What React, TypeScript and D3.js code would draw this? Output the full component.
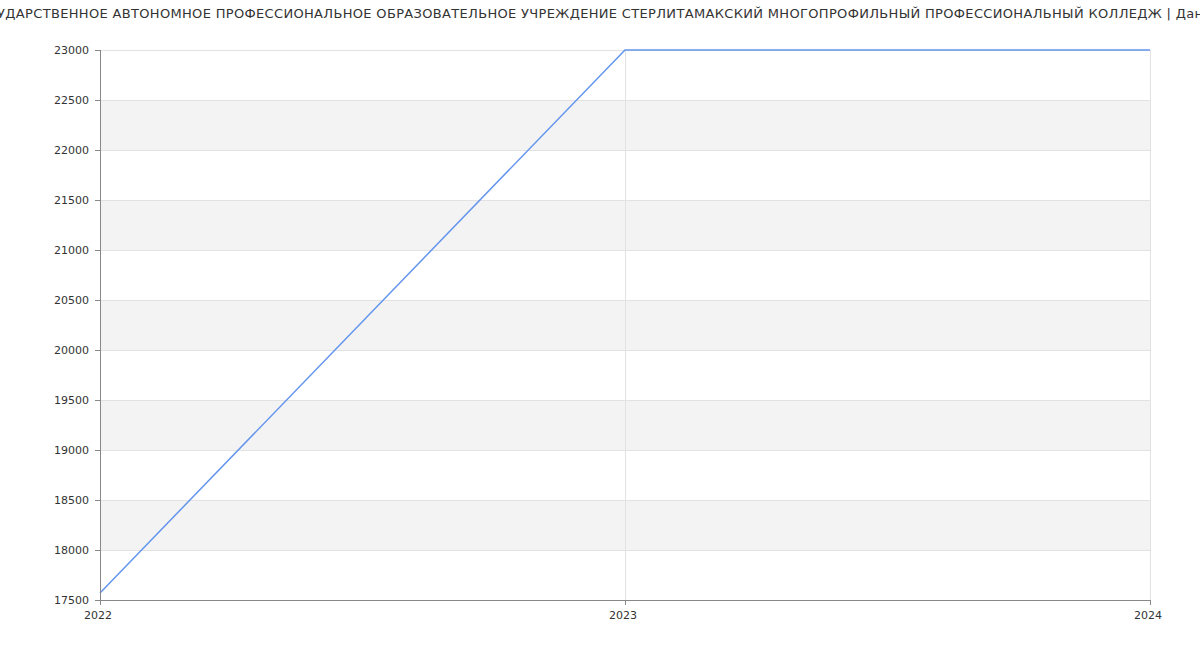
import React from "react";
import * as d3 from "d3";

const title = "ГОСУДАРСТВЕННОЕ АВТОНОМНОЕ ПРОФЕССИОНАЛЬНОЕ ОБРАЗОВАТЕЛЬНОЕ УЧРЕЖДЕНИЕ СТЕРЛИТАМАКСКИЙ МНОГОПРОФИЛЬНЫЙ ПРОФЕССИОНАЛЬНЫЙ КОЛЛЕДЖ | Данные";
const years = [2022, 2023, 2024];
const values = [17570, 23000, 23000];
const yTicks = [17500, 18000, 18500, 19000, 19500, 20000, 20500, 21000, 21500, 22000, 22500, 23000];

export default function App() {
  const W = 1200, H = 650;
  const m = { left: 100, right: 50, top: 50, bottom: 50 };
  const x = d3.scaleLinear().domain([2022, 2024]).range([m.left, W - m.right]);
  const y = d3.scaleLinear().domain([17500, 23000]).range([H - m.bottom, m.top]);
  const line = d3.line<number>().x((_, i) => x(years[i])).y((d) => y(d));
  const font = "DejaVu Sans, sans-serif";
  const bands = yTicks.slice(0, -1).map((t, i) => ({ lo: t, hi: yTicks[i + 1], i }));
  return (
    <svg width={W} height={H} style={{ position: "absolute", left: 0, top: 0 }}>
      <rect x={0} y={0} width={W} height={H} fill="#fff" />
      {bands.filter((b) => b.i % 2 === 1).map((b) => (
        <rect key={b.lo} x={x(2022)} y={y(b.hi)} width={x(2024) - x(2022)} height={y(b.lo) - y(b.hi)} fill="#f3f3f3" />
      ))}
      {yTicks.map((t) => (
        <line key={t} x1={x(2022)} x2={x(2024)} y1={y(t) + 0.5} y2={y(t) + 0.5} stroke="#e2e2e2" />
      ))}
      {years.slice(1).map((yr) => (
        <line key={yr} x1={x(yr) + 0.5} x2={x(yr) + 0.5} y1={y(23000)} y2={y(17500)} stroke="#e2e2e2" />
      ))}
      <path d={line(values) || ""} fill="none" stroke="#6495ed" strokeWidth={1.5} />
      <line x1={x(2022) + 0.5} x2={x(2022) + 0.5} y1={y(23000)} y2={y(17500) + 0.5} stroke="#888" />
      <line x1={x(2022)} x2={x(2024)} y1={y(17500) + 0.5} y2={y(17500) + 0.5} stroke="#888" />
      {yTicks.map((t) => (
        <g key={t}>
          <line x1={x(2022) - 5} x2={x(2022)} y1={y(t) + 0.5} y2={y(t) + 0.5} stroke="#888" />
          <text x={x(2022) - 11} y={y(t)} dy="0.35em" textAnchor="end" fontFamily={font} fontSize={11} fill="#333">{t}</text>
        </g>
      ))}
      {years.map((yr) => (
        <g key={yr}>
          <line x1={x(yr) + 0.5} x2={x(yr) + 0.5} y1={y(17500)} y2={y(17500) + 5} stroke="#888" />
          <text x={x(yr) - 2} y={y(17500) + 19} textAnchor="middle" fontFamily={font} fontSize={11} fill="#333">{yr}</text>
        </g>
      ))}
      <text x={W / 2} y={18} textAnchor="middle" fontFamily={font} fontSize={13} fill="#333" letterSpacing={0.33}>{title}</text>
    </svg>
  );
}
